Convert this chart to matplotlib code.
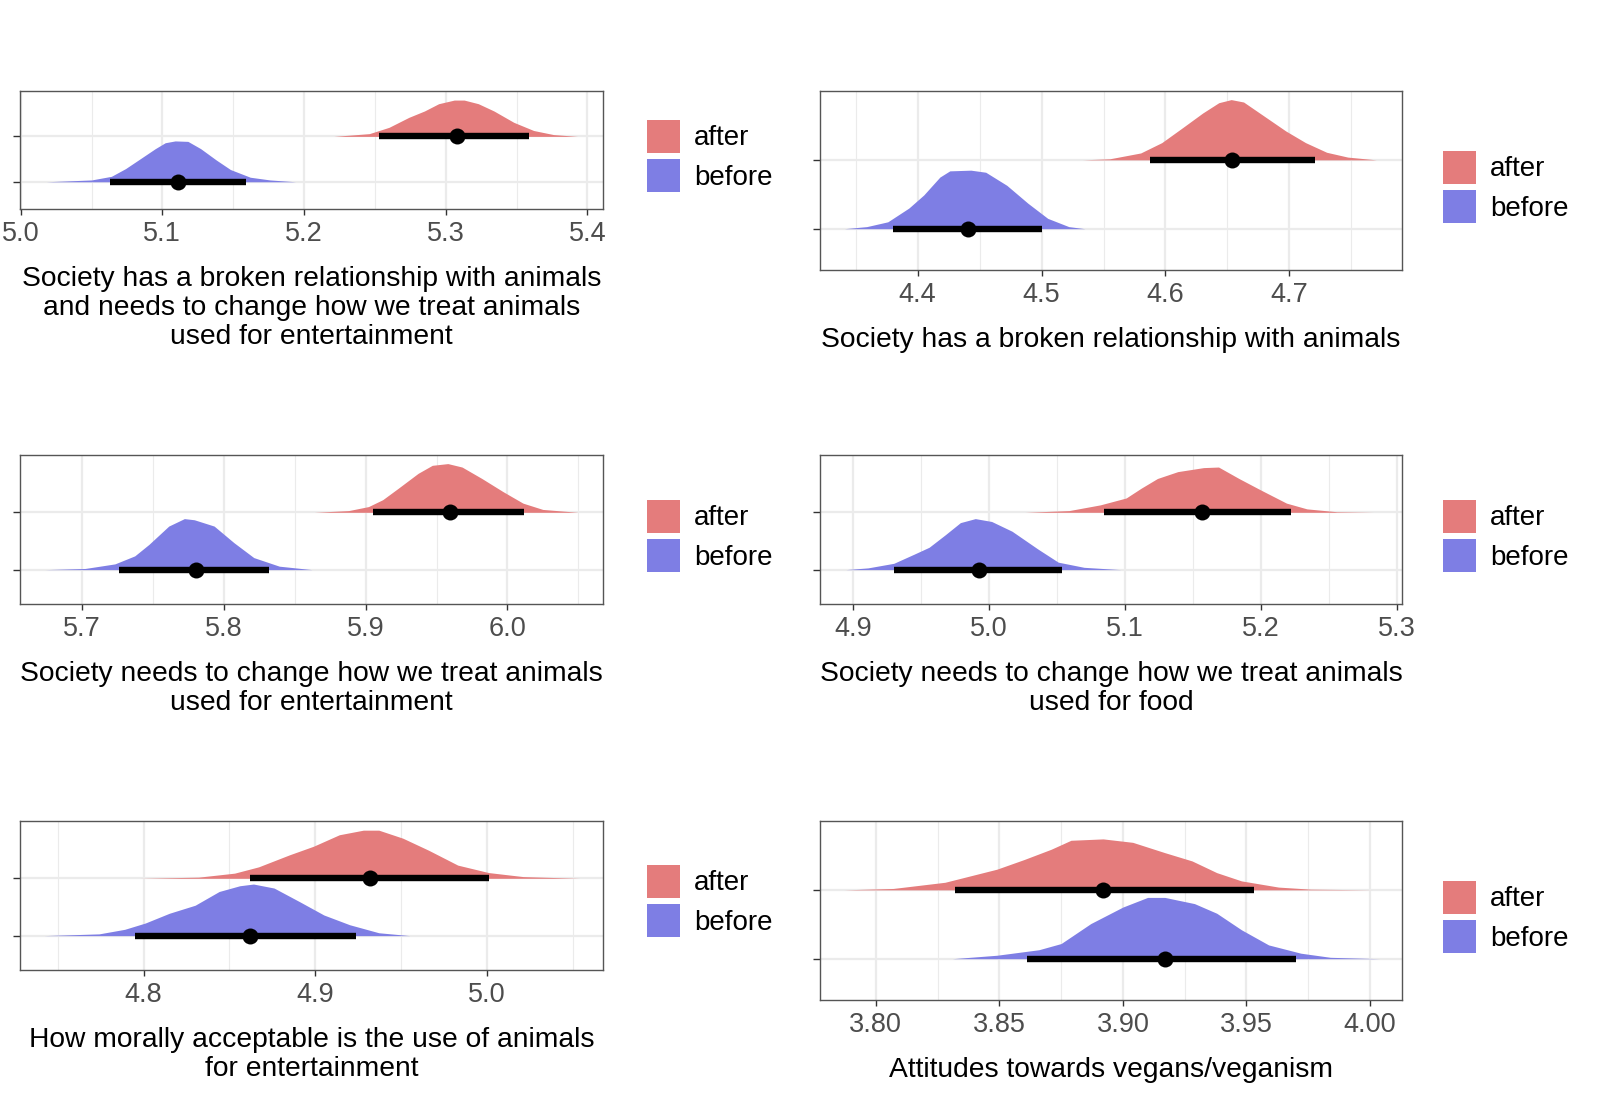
import numpy as np
import matplotlib.pyplot as plt
from matplotlib.patches import Patch

plt.rcParams['font.family'] = ['Liberation Sans', 'DejaVu Sans']

W, H = 1600, 1095

# axis titles
titles = [
    "Society has a broken relationship with animals\nand needs to change how we treat animals\nused for entertainment",
    "Society has a broken relationship with animals",
    "Society needs to change how we treat animals\nused for entertainment",
    "Society needs to change how we treat animals\nused for food",
    "How morally acceptable is the use of animals\nfor entertainment",
    "Attitudes towards vegans/veganism",
]
groups = ["after", "before"]

# tick values per panel
ticks = [
    [5.0, 5.1, 5.2, 5.3, 5.4],
    [4.4, 4.5, 4.6, 4.7],
    [5.7, 5.8, 5.9, 6.0],
    [4.9, 5.0, 5.1, 5.2, 5.3],
    [4.8, 4.9, 5.0],
    [3.80, 3.85, 3.90, 3.95, 4.00],
]

# posterior densities (x, scaled height)
p1_after_x = [5.221, 5.246, 5.260, 5.274, 5.285, 5.295, 5.306, 5.313, 5.323, 5.334, 5.348, 5.362, 5.376, 5.393]
p1_after_d = [0, .06, .20, .42, .56, .72, .80, .80, .72, .56, .31, .13, .04, 0]
p1_before_x = [5.018, 5.050, 5.064, 5.074, 5.085, 5.095, 5.102, 5.109, 5.118, 5.127, 5.138, 5.148, 5.162, 5.176, 5.194]
p1_before_d = [0, .04, .12, .29, .52, .73, .86, .90, .89, .73, .48, .27, .10, .04, 0]

p2_after_x = [4.533, 4.555, 4.580, 4.597, 4.614, 4.630, 4.643, 4.653, 4.663, 4.680, 4.697, 4.713, 4.730, 4.747, 4.770]
p2_after_d = [0, .015, .10, .25, .47, .68, .83, .875, .84, .63, .42, .25, .11, .04, 0]
p2_before_x = [4.341, 4.359, 4.376, 4.393, 4.405, 4.418, 4.426, 4.443, 4.455, 4.472, 4.489, 4.505, 4.522, 4.535]
p2_before_d = [0, .03, .10, .30, .49, .75, .84, .85, .82, .63, .37, .15, .03, 0]

p3_after_x = [5.8636, 5.888, 5.902, 5.912, 5.923, 5.937, 5.947, 5.958, 5.968, 5.982, 5.997, 6.011, 6.025, 6.050]
p3_after_d = [0, .03, .10, .22, .42, .68, .82, .85, .79, .59, .36, .16, .05, 0]
p3_before_x = [5.6736, 5.702, 5.723, 5.737, 5.747, 5.761, 5.772, 5.779, 5.793, 5.807, 5.821, 5.839, 5.862]
p3_before_d = [0, .02, .10, .24, .44, .76, .89, .87, .76, .47, .21, .06, 0]

p4_after_x = [5.0266, 5.059, 5.082, 5.101, 5.112, 5.124, 5.139, 5.158, 5.169, 5.184, 5.200, 5.219, 5.234, 5.256, 5.283]
p4_after_d = [0, .03, .13, .25, .42, .59, .71, .78, .79, .59, .39, .16, .06, .01, 0]
p4_before_x = [4.8947, 4.911, 4.930, 4.945, 4.956, 4.968, 4.979, 4.990, 5.002, 5.017, 5.036, 5.051, 5.070, 5.097]
p4_before_d = [0, .03, .11, .27, .39, .61, .82, .89, .84, .67, .36, .13, .04, 0]

p5_after_x = [4.7977, 4.832, 4.853, 4.867, 4.885, 4.899, 4.914, 4.928, 4.937, 4.951, 4.966, 4.983, 5.001, 5.021, 5.054]
p5_after_d = [0, .02, .09, .20, .41, .56, .76, .84, .84, .70, .49, .23, .10, .03, 0]
p5_before_x = [4.742, 4.774, 4.789, 4.801, 4.815, 4.830, 4.844, 4.856, 4.864, 4.876, 4.891, 4.905, 4.920, 4.937, 4.955]
p5_before_d = [0, .03, .11, .22, .39, .53, .77, .87, .90, .83, .59, .36, .19, .05, 0]

p6_after_x = [3.787, 3.807, 3.828, 3.849, 3.860, 3.871, 3.879, 3.892, 3.904, 3.917, 3.928, 3.938, 3.948, 3.963, 3.976, 4.001]
p6_after_d = [0, .02, .11, .30, .44, .59, .72, .74, .69, .54, .42, .25, .13, .04, .01, 0]
p6_before_x = [3.831, 3.849, 3.866, 3.875, 3.887, 3.900, 3.910, 3.917, 3.929, 3.938, 3.948, 3.959, 3.972, 3.984, 4.004]
p6_before_d = [0, .05, .13, .22, .51, .75, .89, .89, .80, .66, .42, .20, .08, .02, 0]

after_x = [p1_after_x, p2_after_x, p3_after_x, p4_after_x, p5_after_x, p6_after_x]
after_d = [p1_after_d, p2_after_d, p3_after_d, p4_after_d, p5_after_d, p6_after_d]
before_x = [p1_before_x, p2_before_x, p3_before_x, p4_before_x, p5_before_x, p6_before_x]
before_d = [p1_before_d, p2_before_d, p3_before_d, p4_before_d, p5_before_d, p6_before_d]

# medians and 66% intervals
after_med = [5.308, 4.654, 5.9596, 5.1565, 4.932, 3.892]
after_lo = [5.253, 4.5875, 5.905, 5.085, 4.862, 3.832]
after_hi = [5.359, 4.721, 6.012, 5.222, 5.001, 3.953]
before_med = [5.111, 4.441, 5.780, 4.993, 4.862, 3.917]
before_lo = [5.063, 4.380, 5.726, 4.930, 4.795, 3.861]
before_hi = [5.159, 4.500, 5.832, 5.054, 4.924, 3.970]

# LAYOUT (pixels: left, top, right, bottom)
boxes = [
    (20, 91, 603, 209),
    (820, 91, 1402, 270),
    (20, 455, 603, 604),
    (820, 455, 1402, 604),
    (20, 821, 603, 970),
    (820, 821, 1402, 1000),
]
xlims = [(4.9995, 5.411), (4.3213, 4.7908), (5.656, 6.0675),
         (4.8757, 5.304), (4.728, 5.0676), (3.7774, 4.013)]
legend_pos = [(647, 156), (1443, 187), (647, 536), (1443, 536), (647, 901), (1443, 917)]

col_after = '#E47C7C'
col_before = '#7E7EE4'

fig = plt.figure(figsize=(W / 100, H / 100), dpi=100)

for i in range(6):
    l, t, r, b = boxes[i]
    ax = fig.add_axes([l / W, 1 - b / H, (r - l) / W, (b - t) / H])

    # slabs
    ax.fill_between(after_x[i], 2, 2 + np.array(after_d[i]), color=col_after, lw=0, zorder=3)
    ax.fill_between(before_x[i], 1, 1 + np.array(before_d[i]), color=col_before, lw=0, zorder=3)

    # point + interval
    for y, lo, hi, med in [(2, after_lo[i], after_hi[i], after_med[i]),
                           (1, before_lo[i], before_hi[i], before_med[i])]:
        ax.plot([lo, hi], [y, y], color='black', lw=4.6, solid_capstyle='butt', zorder=4)
        ax.plot(med, y, 'o', color='black', ms=11.5, mew=0, zorder=5)

    tv = ticks[i]
    step = tv[1] - tv[0]
    dec = 2 if step < 0.1 - 1e-9 else 1
    ax.set_xticks(tv)
    ax.set_xticklabels([f"{v:.{dec}f}" for v in tv])
    minor = [tv[0] - step / 2] + [v + step / 2 for v in tv]
    ax.set_xticks(minor, minor=True)
    ax.set_yticks([1, 2])
    ax.set_yticklabels([])

    # limits after ticks so they are not widened
    ax.set_xlim(*xlims[i])
    ax.set_ylim(0.4, 3.0)

    ax.grid(True, which='major', axis='both', color='#EBEBEB', lw=1.6, zorder=0)
    ax.grid(True, which='minor', axis='x', color='#EBEBEB', lw=0.8, zorder=0)
    ax.set_axisbelow(True)

    ax.tick_params(axis='x', which='major', length=4.5, width=1.0, color='#333333',
                   labelsize=19.5, labelcolor='#4D4D4D', pad=4)
    ax.tick_params(axis='x', which='minor', length=0)
    ax.tick_params(axis='y', length=5, width=1.0, color='#333333')
    for s in ax.spines.values():
        s.set_color('#555555')
        s.set_linewidth(1.0)

    ax.set_xlabel(titles[i], fontsize=20.3, color='black', labelpad=14, linespacing=1.15)

    # legend
    lx, ly = legend_pos[i]
    handles = [Patch(facecolor=col_after, edgecolor='none'),
               Patch(facecolor=col_before, edgecolor='none')]
    fig.legend(handles, groups, loc='center left', bbox_to_anchor=(lx / W, 1 - ly / H),
               frameon=False, fontsize=20, handlelength=1.2, handleheight=1.45,
               handletextpad=0.5, labelspacing=0.25, borderpad=0, borderaxespad=0)

fig.savefig('out.png', dpi=100, facecolor='white')
